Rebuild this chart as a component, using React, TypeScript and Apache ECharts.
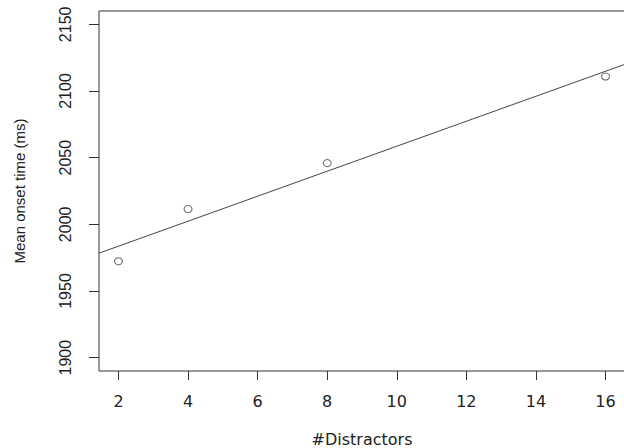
import React, { useEffect, useRef } from "react";
import * as echarts from "echarts";

const distractors = [2, 4, 8, 16];
const onsetTimes = [1972.3, 2011.5, 2045.9, 2110.9];
const xTicks = [2, 4, 6, 8, 10, 12, 14, 16];
const yTicks = [1900, 1950, 2000, 2050, 2100, 2150];
const xLimits = [1.44, 16.56];
const yLimits = [1890, 2160];

function fitLine(xs: number[], ys: number[]) {
  const n = xs.length;
  const mx = xs.reduce((a, b) => a + b, 0) / n;
  const my = ys.reduce((a, b) => a + b, 0) / n;
  let sxy = 0;
  let sxx = 0;
  for (let i = 0; i < n; i++) {
    sxy += (xs[i] - mx) * (ys[i] - my);
    sxx += (xs[i] - mx) * (xs[i] - mx);
  }
  const slope = sxy / sxx;
  const intercept = my - slope * mx;
  return { slope, intercept };
}

export default function App() {
  const ref = useRef<HTMLDivElement>(null);
  useEffect(() => {
    if (!ref.current) return;
    const chart = echarts.init(ref.current, null, { renderer: "svg" });
    const { slope, intercept } = fitLine(distractors, onsetTimes);
    const lineData = xLimits.map((x) => [x, intercept + slope * x]);
    chart.setOption({
      animation: false,
      backgroundColor: "#ffffff",
      grid: {
        left: 99,
        top: 11,
        right: -1,
        bottom: 77,
        show: true,
        borderColor: "#333",
        borderWidth: 1,
        backgroundColor: "transparent",
        containLabel: false,
        outerBoundsMode: "none",
      },
      xAxis: {
        type: "value",
        min: xLimits[0],
        max: xLimits[1],
        name: "#Distractors",
        nameLocation: "middle",
        nameGap: 60,
        nameTextStyle: {
          fontFamily: "DejaVu Sans",
          fontSize: 16,
          lineHeight: 16,
          color: "#222",
        },
        axisLine: { show: false },
        splitLine: { show: false },
        axisTick: {
          show: true,
          inside: false,
          length: 9,
          customValues: xTicks,
          lineStyle: { color: "#333", width: 1 },
        },
        axisLabel: {
          customValues: xTicks,
          margin: 22,
          fontFamily: "DejaVu Sans",
          fontSize: 16,
          color: "#222",
          formatter: (v: number) => String(v),
        },
      },
      yAxis: {
        type: "value",
        min: yLimits[0],
        max: yLimits[1],
        name: "Mean onset time (ms)",
        nameLocation: "middle",
        nameGap: 72,
        nameTextStyle: {
          fontFamily: "Liberation Sans",
          fontSize: 15,
          color: "#222",
        },
        axisLine: { show: false },
        splitLine: { show: false },
        axisTick: {
          show: true,
          inside: false,
          length: 10,
          customValues: yTicks,
          lineStyle: { color: "#333", width: 1 },
        },
        axisLabel: {
          customValues: yTicks,
          rotate: 90,
          margin: 26,
          fontFamily: "Liberation Sans",
          fontSize: 16,
          color: "#222",
          formatter: (v: number) => String(v),
        },
      },
      series: [
        {
          type: "line",
          data: lineData,
          showSymbol: false,
          symbol: "none",
          lineStyle: { color: "#444", width: 1 },
          silent: true,
        },
        {
          type: "scatter",
          data: distractors.map((x, i) => [x, onsetTimes[i]]),
          symbol: "circle",
          symbolSize: [8, 7],
          itemStyle: {
            color: "rgba(255,255,255,0)",
            borderColor: "#444",
            borderWidth: 1,
          },
        },
      ],
    });
    return () => chart.dispose();
  }, []);
  return (
    <div
      ref={ref}
      style={{ position: "fixed", left: 0, top: 0, width: 624, height: 448 }}
    />
  );
}
